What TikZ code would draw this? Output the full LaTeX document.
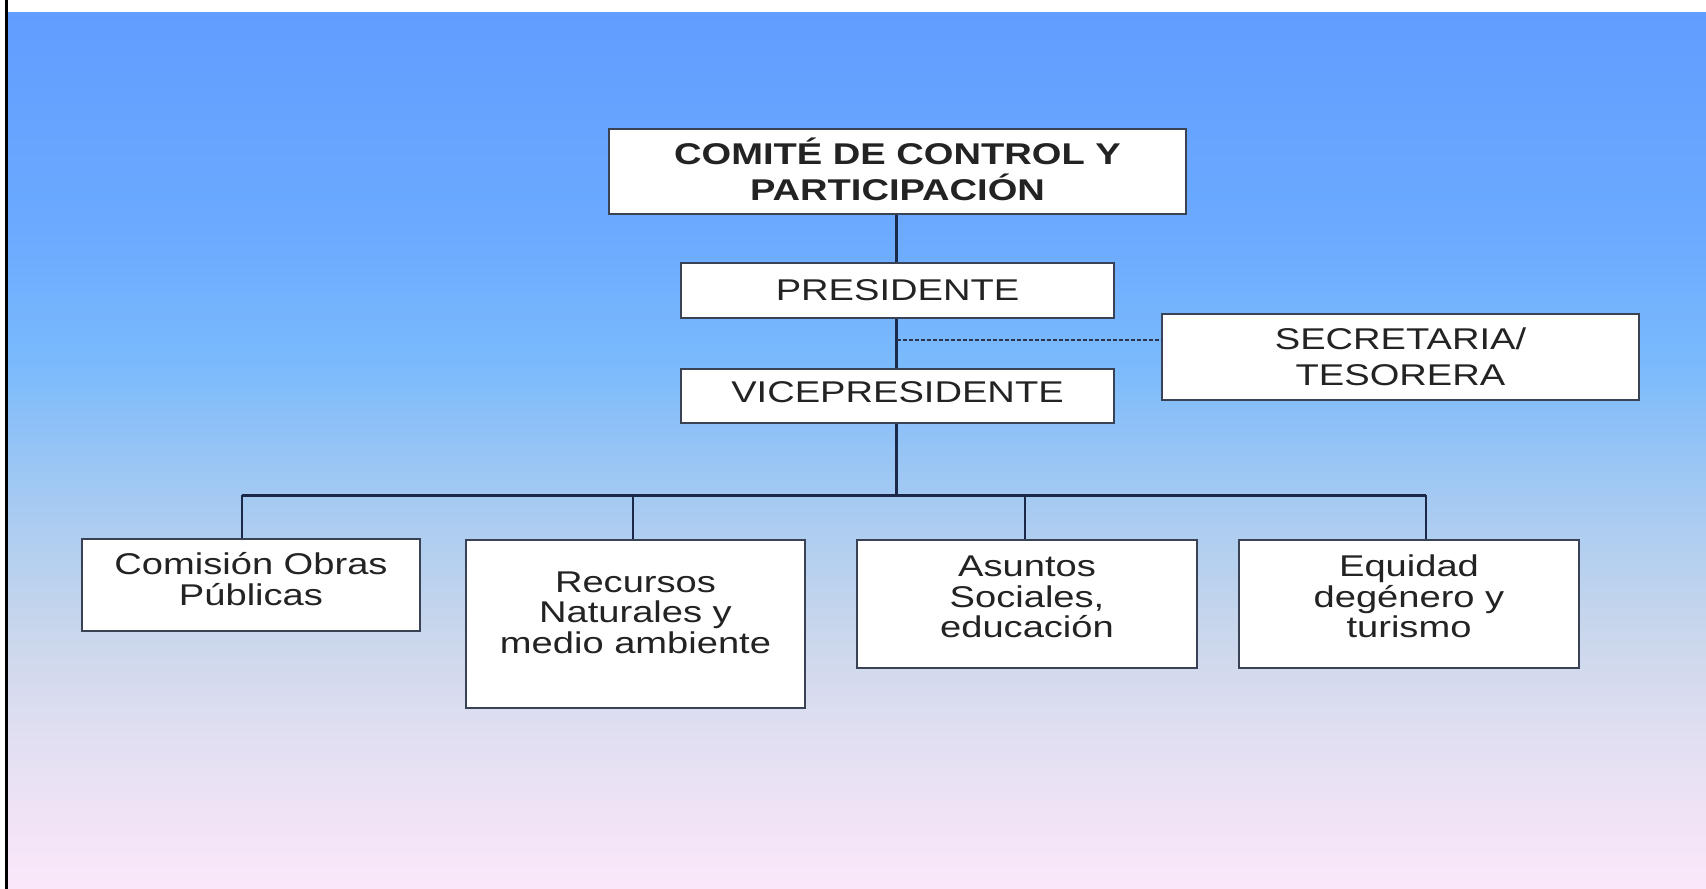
\documentclass[tikz,border=0pt]{standalone}
\usepackage{fontspec}
\setmainfont{Liberation Sans}
\newfontfamily\boxfont[FakeStretch=1.27]{Liberation Sans}
\definecolor{g0}{RGB}{97,157,255}
\definecolor{g1}{RGB}{107,170,255}
\definecolor{g2}{RGB}{122,186,252}
\definecolor{g3}{RGB}{150,196,245}
\definecolor{g4}{RGB}{176,206,240}
\definecolor{g5}{RGB}{200,214,236}
\definecolor{g6}{RGB}{220,221,240}
\definecolor{g7}{RGB}{238,226,245}
\definecolor{g8}{RGB}{250,232,250}
\definecolor{connc}{RGB}{28,40,72}
\definecolor{boxc}{RGB}{58,66,86}
\definecolor{txtc}{RGB}{35,35,35}
\pgfdeclareverticalshading{bgshade}{100bp}{color(0bp)=(g8); color(25bp)=(g8); color(30bp)=(g7); color(35bp)=(g6); color(40bp)=(g5); color(45bp)=(g4); color(50bp)=(g3); color(55bp)=(g2); color(62.5bp)=(g1); color(75bp)=(g0); color(100bp)=(g0)}
\tikzset{
  box/.style={draw=boxc, line width=2pt, fill=white, inner xsep=0pt, inner ysep=0pt,
    align=center, text=txtc, anchor=north},
  upbox/.style={box, font=\boxfont\fontsize{30}{36}\selectfont},
  lowbox/.style={box, font=\boxfont\fontsize{30}{30.5}\selectfont},
  conn/.style={draw=connc, line width=3.5pt},
  bus/.style={draw=connc, line width=3pt},
  drop/.style={draw=connc, line width=2pt},
  dashconn/.style={draw=connc!85!gray, line width=2pt, dash pattern=on 4pt off 2pt}
}
\begin{document}
\begin{tikzpicture}[x=1pt,y=-1pt]
\useasboundingbox (0,0) rectangle (1706,889);
\fill[white] (0,0) rectangle (1706,889);
\shade[shading=bgshade] (8,12) rectangle (1706,889);
\fill[black] (5,0) rectangle (8,889);

% upper boxes
\node[upbox, minimum width=577pt, text height=71pt, text depth=14pt] (comite) at (897.5,128)
  {\bfseries COMITÉ DE CONTROL Y\\\bfseries PARTICIPACIÓN};
\node[upbox, minimum width=433pt, text height=37pt, text depth=18pt] (pres) at (897.5,262)
  {PRESIDENTE};
\node[upbox, minimum width=433pt, text height=33.5pt, text depth=20.5pt] (vice) at (897.5,368)
  {VICEPRESIDENTE};
\node[upbox, minimum width=477pt, text height=71pt, text depth=15pt] (sec) at (1400.5,313)
  {SECRETARIA/\\TESORERA};

% lower boxes
\node[lowbox, minimum width=338pt, text height=66.5pt, text depth=26pt] (c1) at (251,537.5)
  {Comisión Obras\\Públicas};
\node[lowbox, minimum width=339pt, text height=113.4pt, text depth=55pt] (c2) at (635.5,538.6)
  {Recursos\\Naturales y\\medio ambiente};
\node[lowbox, minimum width=340pt, text height=98pt, text depth=30.5pt] (c3) at (1027,538.6)
  {Asuntos\\Sociales,\\educación};
\node[lowbox, minimum width=340pt, text height=98pt, text depth=30.5pt] (c4) at (1409,538.6)
  {Equidad\\degénero y\\turismo};

% connectors
\coordinate (dj) at (896.5,339.5);
\coordinate (b1) at (241.5,495);
\coordinate (b2) at (633,495);
\coordinate (b3) at (1025,495);
\coordinate (b4) at (1426.4,495);
\coordinate (bm) at (896.5,495);

\draw[conn] (comite.south -| dj) -- (pres.north -| dj);
\draw[conn] (pres.south -| dj) -- (vice.north -| dj);
\draw[conn] (vice.south -| dj) -- (bm);
\draw[dashconn] (dj) -- (dj -| sec.west);
\draw[bus] (b1) -- (b4);
\draw[drop] (b1) -- (b1 |- c1.north);
\draw[drop] (b2) -- (b2 |- c2.north);
\draw[drop] (b3) -- (b3 |- c3.north);
\draw[drop] (b4) -- (b4 |- c4.north);
\end{tikzpicture}
\end{document}
